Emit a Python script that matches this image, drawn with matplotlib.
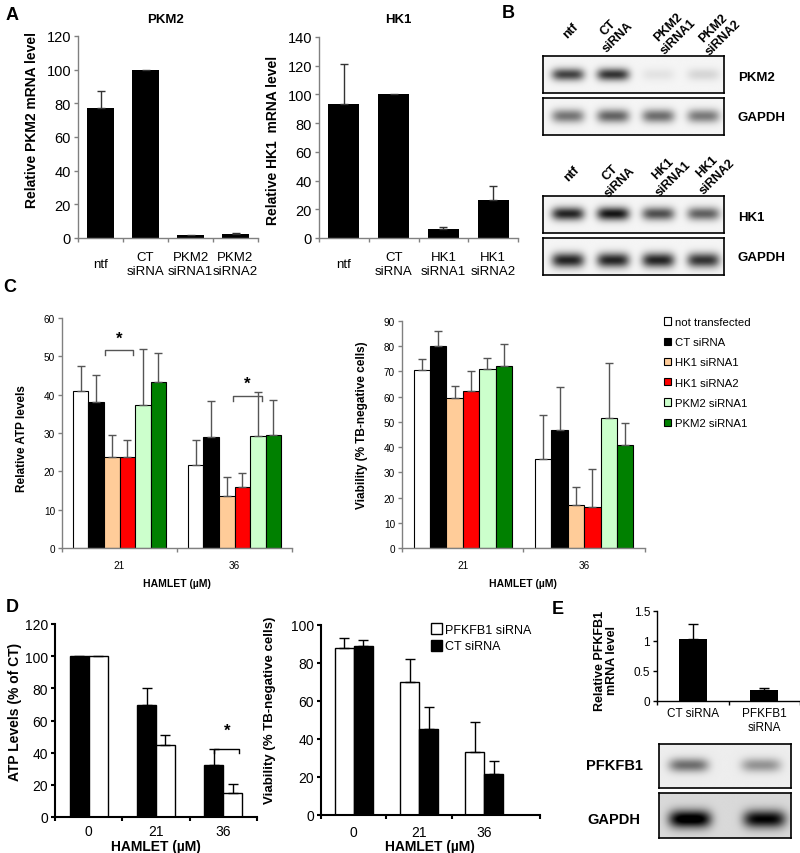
import numpy as np
import matplotlib
matplotlib.use('Agg')
import matplotlib.pyplot as plt

plt.rcParams['font.family'] = ['Liberation Sans', 'DejaVu Sans']

W, H = 800, 854

# ---- panel A: mRNA levels
a_pkm2_cats = ['ntf', 'CT\nsiRNA', 'PKM2\nsiRNA1', 'PKM2\nsiRNA2']
a_pkm2 = [77, 100, 1.5, 2.3]
a_pkm2_err = [10.5, np.nan, np.nan, 0.6]
a_hk1_cats = ['ntf', 'CT\nsiRNA', 'HK1\nsiRNA1', 'HK1\nsiRNA2']
a_hk1 = [93.5, 100, 6, 26.5]
a_hk1_err = [28, np.nan, 1.5, 9.5]

# ---- panel B: western blot band darkness (0 = none, 1 = black)
b_lanes_pkm2 = ['ntf', 'CT\nsiRNA', 'PKM2\nsiRNA1', 'PKM2\nsiRNA2']
b_lanes_hk1 = ['ntf', 'CT\nsiRNA', 'HK1\nsiRNA1', 'HK1\nsiRNA2']
b_pkm2 = [0.7, 0.76, 0.07, 0.12]
b_gapdh1 = [0.5, 0.57, 0.53, 0.48]
b_hk1 = [0.82, 0.88, 0.65, 0.58]
b_gapdh2 = [0.82, 0.82, 0.82, 0.76]

# ---- panel C
c_groups = ['21', '36']
c_series = ['not transfected', 'CT siRNA', 'HK1 siRNA1', 'HK1 siRNA2',
            'PKM2 siRNA1', 'PKM2 siRNA1']
c_colors = ['white', 'black', '#FFCC99', '#FF0000', '#CCFFCC', '#008000']
c_atp = [[41, 21.6], [38, 29], [23.7, 13.6], [23.7, 16], [37.2, 29.1], [43.3, 29.4]]
c_atp_err = [[6.5, 6.6], [7.2, 9.3], [5.8, 4.8], [4.6, 3.5], [14.6, 11.5], [7.5, 9.2]]
c_via = [[70.6, 35.4], [80.1, 46.9], [59.4, 16.9], [62.1, 16.2], [70.9, 51.4], [72.3, 41.0]]
c_via_err = [[4.5, 17.3], [6.1, 17.0], [4.8, 7.3], [8.0, 15.2], [4.5, 22.0], [8.5, 8.7]]

# ---- panel D
d_groups = ['0', '21', '36']
d_atp_ct = [100, 69.8, 32.5]
d_atp_ct_err = [np.nan, 10.2, 9.5]
d_atp_pf = [100, 44.5, 14.9]
d_atp_pf_err = [np.nan, 6.5, 5.6]
d_via_pf = [88, 70, 33.3]
d_via_pf_err = [5, 12, 15.7]
d_via_ct = [89.2, 45.2, 21.4]
d_via_ct_err = [2.8, 11.8, 6.8]

# ---- panel E
e_cats = ['CT siRNA', 'PFKFB1\nsiRNA']
e_mrna = [1.04, 0.18]
e_mrna_err = [0.24, 0.04]
e_pfkfb1 = [0.5, 0.35]
e_gapdh = [0.95, 0.85]

fig = plt.figure(figsize=(W / 100, H / 100), dpi=100)


def px_axes(x0, y0, x1, y1):
    return fig.add_axes([x0 / W, 1 - y1 / H, (x1 - x0) / W, (y1 - y0) / H])


def px_text(x, y, s, **kw):
    kw.setdefault('ha', 'center')
    kw.setdefault('va', 'center')
    fig.text(x / W, 1 - y / H, s, **kw)


def style_axes(ax, cats, color, lw, fs, yfs, pad, xmax=None, va='center'):
    n = len(cats)
    if xmax is None:
        xmax = n - 0.5
    for s in ['top', 'right']:
        ax.spines[s].set_visible(False)
    for s in ['left', 'bottom']:
        ax.spines[s].set_color(color)
        ax.spines[s].set_linewidth(lw)
    ax.set_xlim(-0.5, xmax)
    ax.set_xticks(list(np.arange(n) - 0.5) + [xmax])
    ax.set_xticklabels([])
    ax.set_xticks(np.arange(n), minor=True)
    ax.set_xticklabels(cats, minor=True, fontsize=fs, va=va)
    ax.tick_params(axis='x', which='major', direction='out', length=3, color=color, width=lw)
    ax.tick_params(axis='x', which='minor', length=0, pad=pad)
    ax.tick_params(axis='y', direction='out', length=3, color=color, width=lw,
                   labelsize=yfs, pad=2)


def err_bars(ax, x, vals, errs, color, cap, lw=1):
    errs = np.array(errs, dtype=float)
    ax.errorbar(x, vals, yerr=[np.zeros_like(errs), errs], fmt='none',
                ecolor=color, capsize=cap, elinewidth=lw, capthick=lw)


def bracket(ax, x0, x1, y, d, star_y, color):
    ax.plot([x0, x0, x1, x1], [y - d, y, y, y - d], color=color, lw=1)
    ax.text((x0 + x1) / 2, star_y, '*', ha='center', va='center',
            fontsize=12, fontweight='bold')


def draw_blot(ax, vals, ycen=0.5, bh=0.2, bw=0.36, bg=0.96, centers=None):
    n = len(vals)
    xs = np.linspace(0, n, 400)
    ys = np.linspace(0, 1, 100)
    X, Y = np.meshgrid(xs, ys)
    img = np.full(X.shape, bg)
    for i, v in enumerate(vals):
        c = centers[i] if centers is not None else i + 0.55
        img -= v * np.exp(-((X - c) / bw) ** 4) * np.exp(-((Y - ycen) / bh) ** 2)
    ax.imshow(img, cmap='gray', vmin=0, vmax=1, extent=[0, n, 1, 0],
              aspect='auto', interpolation='bilinear')
    ax.set_xticks([])
    ax.set_yticks([])
    for s in ax.spines.values():
        s.set_linewidth(1.2)
        s.set_color('black')


# ================= A
ax = px_axes(78, 37, 258, 239)
x = np.arange(4)
ax.bar(x, a_pkm2, width=0.62, color='black')
err_bars(ax, x, a_pkm2, a_pkm2_err, '#333333', 3.2)
ax.set_ylim(0, 120)
ax.set_yticks(range(0, 121, 20))
style_axes(ax, a_pkm2_cats, '#808080', 1, 9.5, 10.5, 18.5)
px_text(165, 20, 'PKM2', fontsize=9.5, fontweight='bold')
px_text(32, 120, 'Relative PKM2 mRNA level', fontsize=10, fontweight='bold', rotation=90)

ax = px_axes(319, 38, 518, 239)
ax.bar(x, a_hk1, width=0.62, color='black')
err_bars(ax, x, a_hk1, a_hk1_err, '#333333', 3.2)
ax.set_ylim(0, 140)
ax.set_yticks(range(0, 141, 20))
style_axes(ax, a_hk1_cats, '#808080', 1, 9.5, 10.5, 18.5)
px_text(398, 20, 'HK1', fontsize=9.5, fontweight='bold')
px_text(273, 140, 'Relative HK1  mRNA level', fontsize=10, fontweight='bold', rotation=90)

px_text(12, 15, 'A', fontsize=13, fontweight='bold')
px_text(508, 14, 'B', fontsize=13, fontweight='bold')

# ================= B
draw_blot(px_axes(543, 57, 724, 94), b_pkm2, ycen=0.5, bh=0.17)
draw_blot(px_axes(543, 99, 724, 136), b_gapdh1, ycen=0.5, bh=0.18)
draw_blot(px_axes(543, 197, 724, 234), b_hk1, ycen=0.48, bh=0.18)
draw_blot(px_axes(543, 239, 724, 276), b_gapdh2, ycen=0.6, bh=0.2)
for lbl, xc, yc in zip(b_lanes_pkm2, [571, 613, 673, 718], [31, 33, 32, 33]):
    px_text(xc, yc, lbl, fontsize=9, fontweight='bold', rotation=45, multialignment='center')
for lbl, xc, yc in zip(b_lanes_hk1, [572, 615, 668, 712], [174, 178, 174, 172]):
    px_text(xc, yc, lbl, fontsize=9, fontweight='bold', rotation=45, multialignment='center')
px_text(738, 78, 'PKM2', fontsize=9.5, fontweight='bold', ha='left')
px_text(738, 118, 'GAPDH', fontsize=9.5, fontweight='bold', ha='left')
px_text(738, 218, 'HK1', fontsize=9.5, fontweight='bold', ha='left')
px_text(738, 258, 'GAPDH', fontsize=9.5, fontweight='bold', ha='left')

# ================= C
bw = 0.135
offs = (np.arange(6) - 2.5) * bw
xg = np.arange(2)

ax = px_axes(62, 319, 292, 549)
for i in range(6):
    ax.bar(xg + offs[i], c_atp[i], width=bw, color=c_colors[i], edgecolor='black', lw=0.8)
    err_bars(ax, xg + offs[i], c_atp[i], c_atp_err[i], '#555555', 3.2)
ax.set_ylim(0, 60)
ax.set_yticks(range(0, 61, 10))
style_axes(ax, c_groups, '#808080', 1, 7.2, 7.2, 12)
bracket(ax, offs[2] - 0.055, offs[3] + 0.05, 51.6, 1.3, 54.8, '#555555')
bracket(ax, 1 + offs[3] - 0.08, 1 + offs[4] + 0.036, 39.7, 1.3, 43, '#555555')
px_text(177, 584, 'HAMLET (µM)', fontsize=7.5, fontweight='bold')
px_text(22, 439, 'Relative ATP levels', fontsize=8.5, fontweight='bold', rotation=90)

ax = px_axes(402, 322, 645, 549)
handles = []
for i in range(6):
    bc = ax.bar(xg + offs[i], c_via[i], width=bw, color=c_colors[i], edgecolor='black',
                lw=0.8, label=c_series[i])
    handles.append(bc)
    err_bars(ax, xg + offs[i], c_via[i], c_via_err[i], '#555555', 3.2)
ax.set_ylim(0, 90)
ax.set_yticks(range(0, 91, 10))
style_axes(ax, c_groups, '#808080', 1, 7.2, 7.2, 12)
px_text(523, 584, 'HAMLET (µM)', fontsize=7.5, fontweight='bold')
px_text(362, 425, 'Viability (% TB-negative cells)', fontsize=8.5, fontweight='bold', rotation=90)
fig.legend(handles=handles, loc='upper left', bbox_to_anchor=(664 / W, 1 - 318 / H),
           frameon=False, fontsize=8.2, handlelength=0.6, handleheight=0.6,
           handletextpad=0.35, labelspacing=0.9, borderpad=0, borderaxespad=0)
px_text(10, 287, 'C', fontsize=13, fontweight='bold')

# ================= D
dw = 0.28
xd = np.arange(3)
ax = px_axes(55, 625, 257, 818)
ax.bar(xd - dw / 2, d_atp_ct, width=dw, color='black', edgecolor='black', lw=1)
ax.bar(xd + dw / 2, d_atp_pf, width=dw, color='white', edgecolor='black', lw=1)
err_bars(ax, xd - dw / 2, d_atp_ct, d_atp_ct_err, 'black', 3.5)
err_bars(ax, xd + dw / 2, d_atp_pf, d_atp_pf_err, 'black', 3.5)
ax.set_ylim(0, 120)
ax.set_yticks(range(0, 121, 20))
style_axes(ax, d_groups, 'black', 1.5, 10, 10, 10)
bracket(ax, 2 - dw / 2 + 0.0, 2 + dw / 2 + 0.1, 42, 2, 54, 'black')
px_text(156, 847, 'HAMLET (µM)', fontsize=10, fontweight='bold')
px_text(15, 712, 'ATP Levels (% of CT)', fontsize=10, fontweight='bold', rotation=90)
px_text(12, 607, 'D', fontsize=13, fontweight='bold')

dw2 = 0.29
ax = px_axes(321, 626, 540, 816)
bp = ax.bar(xd - dw2 / 2, d_via_pf, width=dw2, color='white', edgecolor='black', lw=1,
            label='PFKFB1 siRNA')
bc = ax.bar(xd + dw2 / 2, d_via_ct, width=dw2, color='black', edgecolor='black', lw=1,
            label='CT siRNA')
err_bars(ax, xd - dw2 / 2, d_via_pf, d_via_pf_err, 'black', 3.5)
err_bars(ax, xd + dw2 / 2, d_via_ct, d_via_ct_err, 'black', 3.5)
ax.set_ylim(0, 100)
ax.set_yticks(range(0, 101, 20))
style_axes(ax, d_groups, 'black', 1.5, 10, 10, 12, xmax=2.85)
ax.legend(handles=[bp, bc], loc='upper left', bbox_to_anchor=(431 / W, 1 - 624 / H),
          bbox_transform=fig.transFigure, frameon=False, fontsize=9,
          handlelength=0.85, handleheight=1.0, handletextpad=0.3, labelspacing=0.3,
          borderpad=0, borderaxespad=0)
px_text(430, 847, 'HAMLET (µM)', fontsize=10, fontweight='bold')
px_text(270, 710, 'Viability (% TB-negative cells)', fontsize=9.5, fontweight='bold', rotation=90)

# ================= E
ax = px_axes(657, 612, 800, 702)
xe = np.arange(2)
ax.bar(xe, e_mrna, width=0.39, color='black')
err_bars(ax, xe, e_mrna, e_mrna_err, 'black', 3.5)
ax.set_ylim(0, 1.5)
ax.set_yticks([0, 0.5, 1, 1.5])
ax.set_yticklabels(['0', '0.5', '1', '1.5'])
style_axes(ax, e_cats, 'black', 1, 8.5, 8.5, 4.5, va='top')
px_text(606, 661, 'Relative PFKFB1\nmRNA level', fontsize=9, fontweight='bold',
        rotation=90, multialignment='center', linespacing=1.1)
px_text(558, 610, 'E', fontsize=13, fontweight='bold')

draw_blot(px_axes(659, 745, 791, 789), e_pfkfb1, ycen=0.48, bh=0.16, bw=0.3,
          bg=0.93, centers=[0.45, 1.55])
draw_blot(px_axes(659, 794, 791, 839), e_gapdh, ycen=0.58, bh=0.2, bw=0.32,
          bg=0.85, centers=[0.47, 1.6])
px_text(614, 766, 'PFKFB1', fontsize=10.5, fontweight='bold')
px_text(614, 820, 'GAPDH', fontsize=10.5, fontweight='bold')

fig.savefig('out.png', dpi=100)
